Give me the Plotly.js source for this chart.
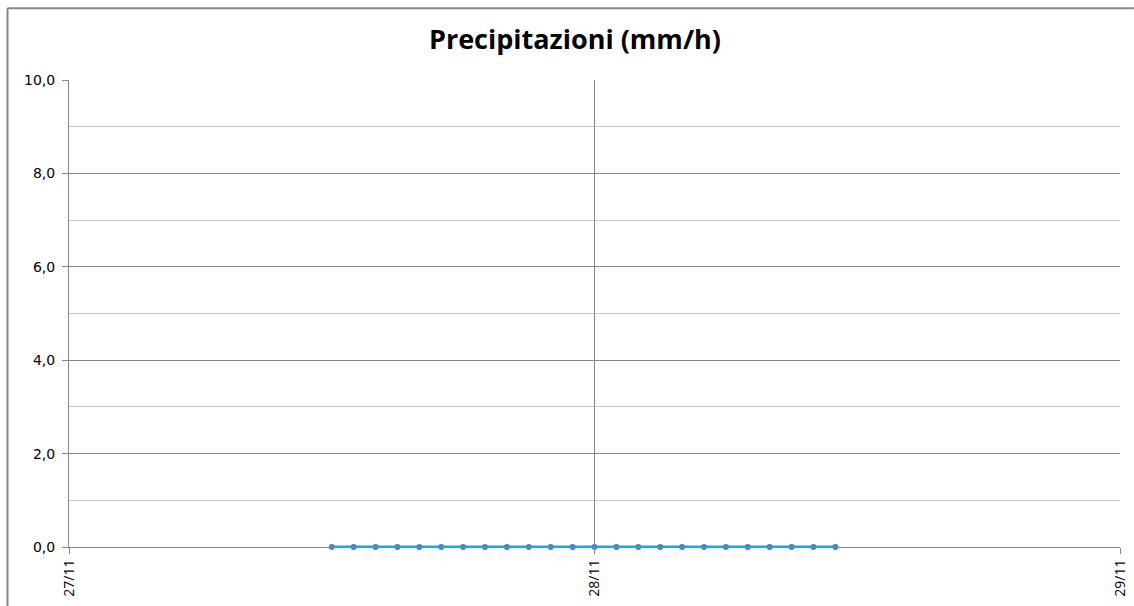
<!DOCTYPE html>
<html>
<head>
<meta charset="utf-8">
<script src="https://cdn.plot.ly/plotly-3.0.1.min.js"></script>
<style>
html,body{margin:0;padding:0;background:#fff;overflow:hidden;}
#chart{width:1134px;height:606px;}
</style>
</head>
<body>
<div id="chart"></div>
<script>
// Hourly timestamps of the rainfall series
var times = [
  "2014-11-27 12:00","2014-11-27 13:00","2014-11-27 14:00","2014-11-27 15:00",
  "2014-11-27 16:00","2014-11-27 17:00","2014-11-27 18:00","2014-11-27 19:00",
  "2014-11-27 20:00","2014-11-27 21:00","2014-11-27 22:00","2014-11-27 23:00",
  "2014-11-28 00:00","2014-11-28 01:00","2014-11-28 02:00","2014-11-28 03:00",
  "2014-11-28 04:00","2014-11-28 05:00","2014-11-28 06:00","2014-11-28 07:00",
  "2014-11-28 08:00","2014-11-28 09:00","2014-11-28 10:00","2014-11-28 11:00"
];
// Precipitation (mm/h)
var rain = [0,0,0,0,0,0,0,0,0,0,0,0,0,0,0,0,0,0,0,0,0,0,0,0];
// Axis settings
var xRange = ["2014-11-27 00:00","2014-11-29 00:00"];
var xTickVals = ["2014-11-27","2014-11-28","2014-11-29"];
var xTickText = ["27/11","28/11","29/11"];
var yRange = [0,10];

var trace = {
  x: times, y: rain, type: "scatter", mode: "lines+markers",
  line: {color: "#00b0f0", width: 3},
  marker: {color: "#4f81bd", size: 6, symbol: "circle"},
  cliponaxis: false, hoverinfo: "x+y"
};

var layout = {
  width: 1134, height: 606,
  margin: {l: 69, r: 14, t: 80, b: 59},
  paper_bgcolor: "#ffffff", plot_bgcolor: "#ffffff",
  separators: ",.",
  showlegend: false,
  title: {
    text: "<b>Precipitazioni (mm/h)</b>",
    font: {family: "Open Sans, sans-serif", size: 27, color: "#000000"},
    x: 0.507, xanchor: "center", y: 0.934, yanchor: "middle", yref: "container"
  },
  xaxis: {
    type: "date", range: xRange,
    tickmode: "array", tickvals: xTickVals, ticktext: xTickText,
    tickangle: -90,
    tickfont: {family: "Open Sans, sans-serif", size: 14, color: "#000"},
    ticks: "outside", ticklen: 6, tickcolor: "#868686", tickwidth: 1,
    showgrid: true, gridcolor: "#868686", gridwidth: 1,
    showline: true, linecolor: "#868686", linewidth: 1,
    zeroline: false, fixedrange: true
  },
  yaxis: {
    range: yRange, dtick: 2, tick0: 0, tickformat: ".1f",
    tickfont: {family: "DejaVu Sans, Verdana, sans-serif", size: 14, color: "#000"},
    ticks: "outside", ticklen: 6, tickcolor: "#868686", tickwidth: 1,
    ticklabelstandoff: 4,
    showgrid: true, gridcolor: "#868686", gridwidth: 1,
    minor: {dtick: 1, showgrid: true, gridcolor: "#c8c8c8", gridwidth: 1, ticks: ""},
    showline: true, linecolor: "#868686", linewidth: 1,
    zeroline: false, fixedrange: true
  },
  shapes: [
    {type: "line", xref: "paper", yref: "paper", layer: "below",
     x0: -0.0585, x1: -0.0585, y0: -0.3, y1: 1.1535,
     line: {color: "#868686", width: 2}},
    {type: "line", xref: "paper", yref: "paper", layer: "below",
     x0: -0.0585, x1: 1.0133, y0: 1.1535, y1: 1.1535,
     line: {color: "#868686", width: 2}}
  ]
};

Plotly.newPlot("chart", [trace], layout, {displayModeBar: false, staticPlot: true});
</script>
</body>
</html>
